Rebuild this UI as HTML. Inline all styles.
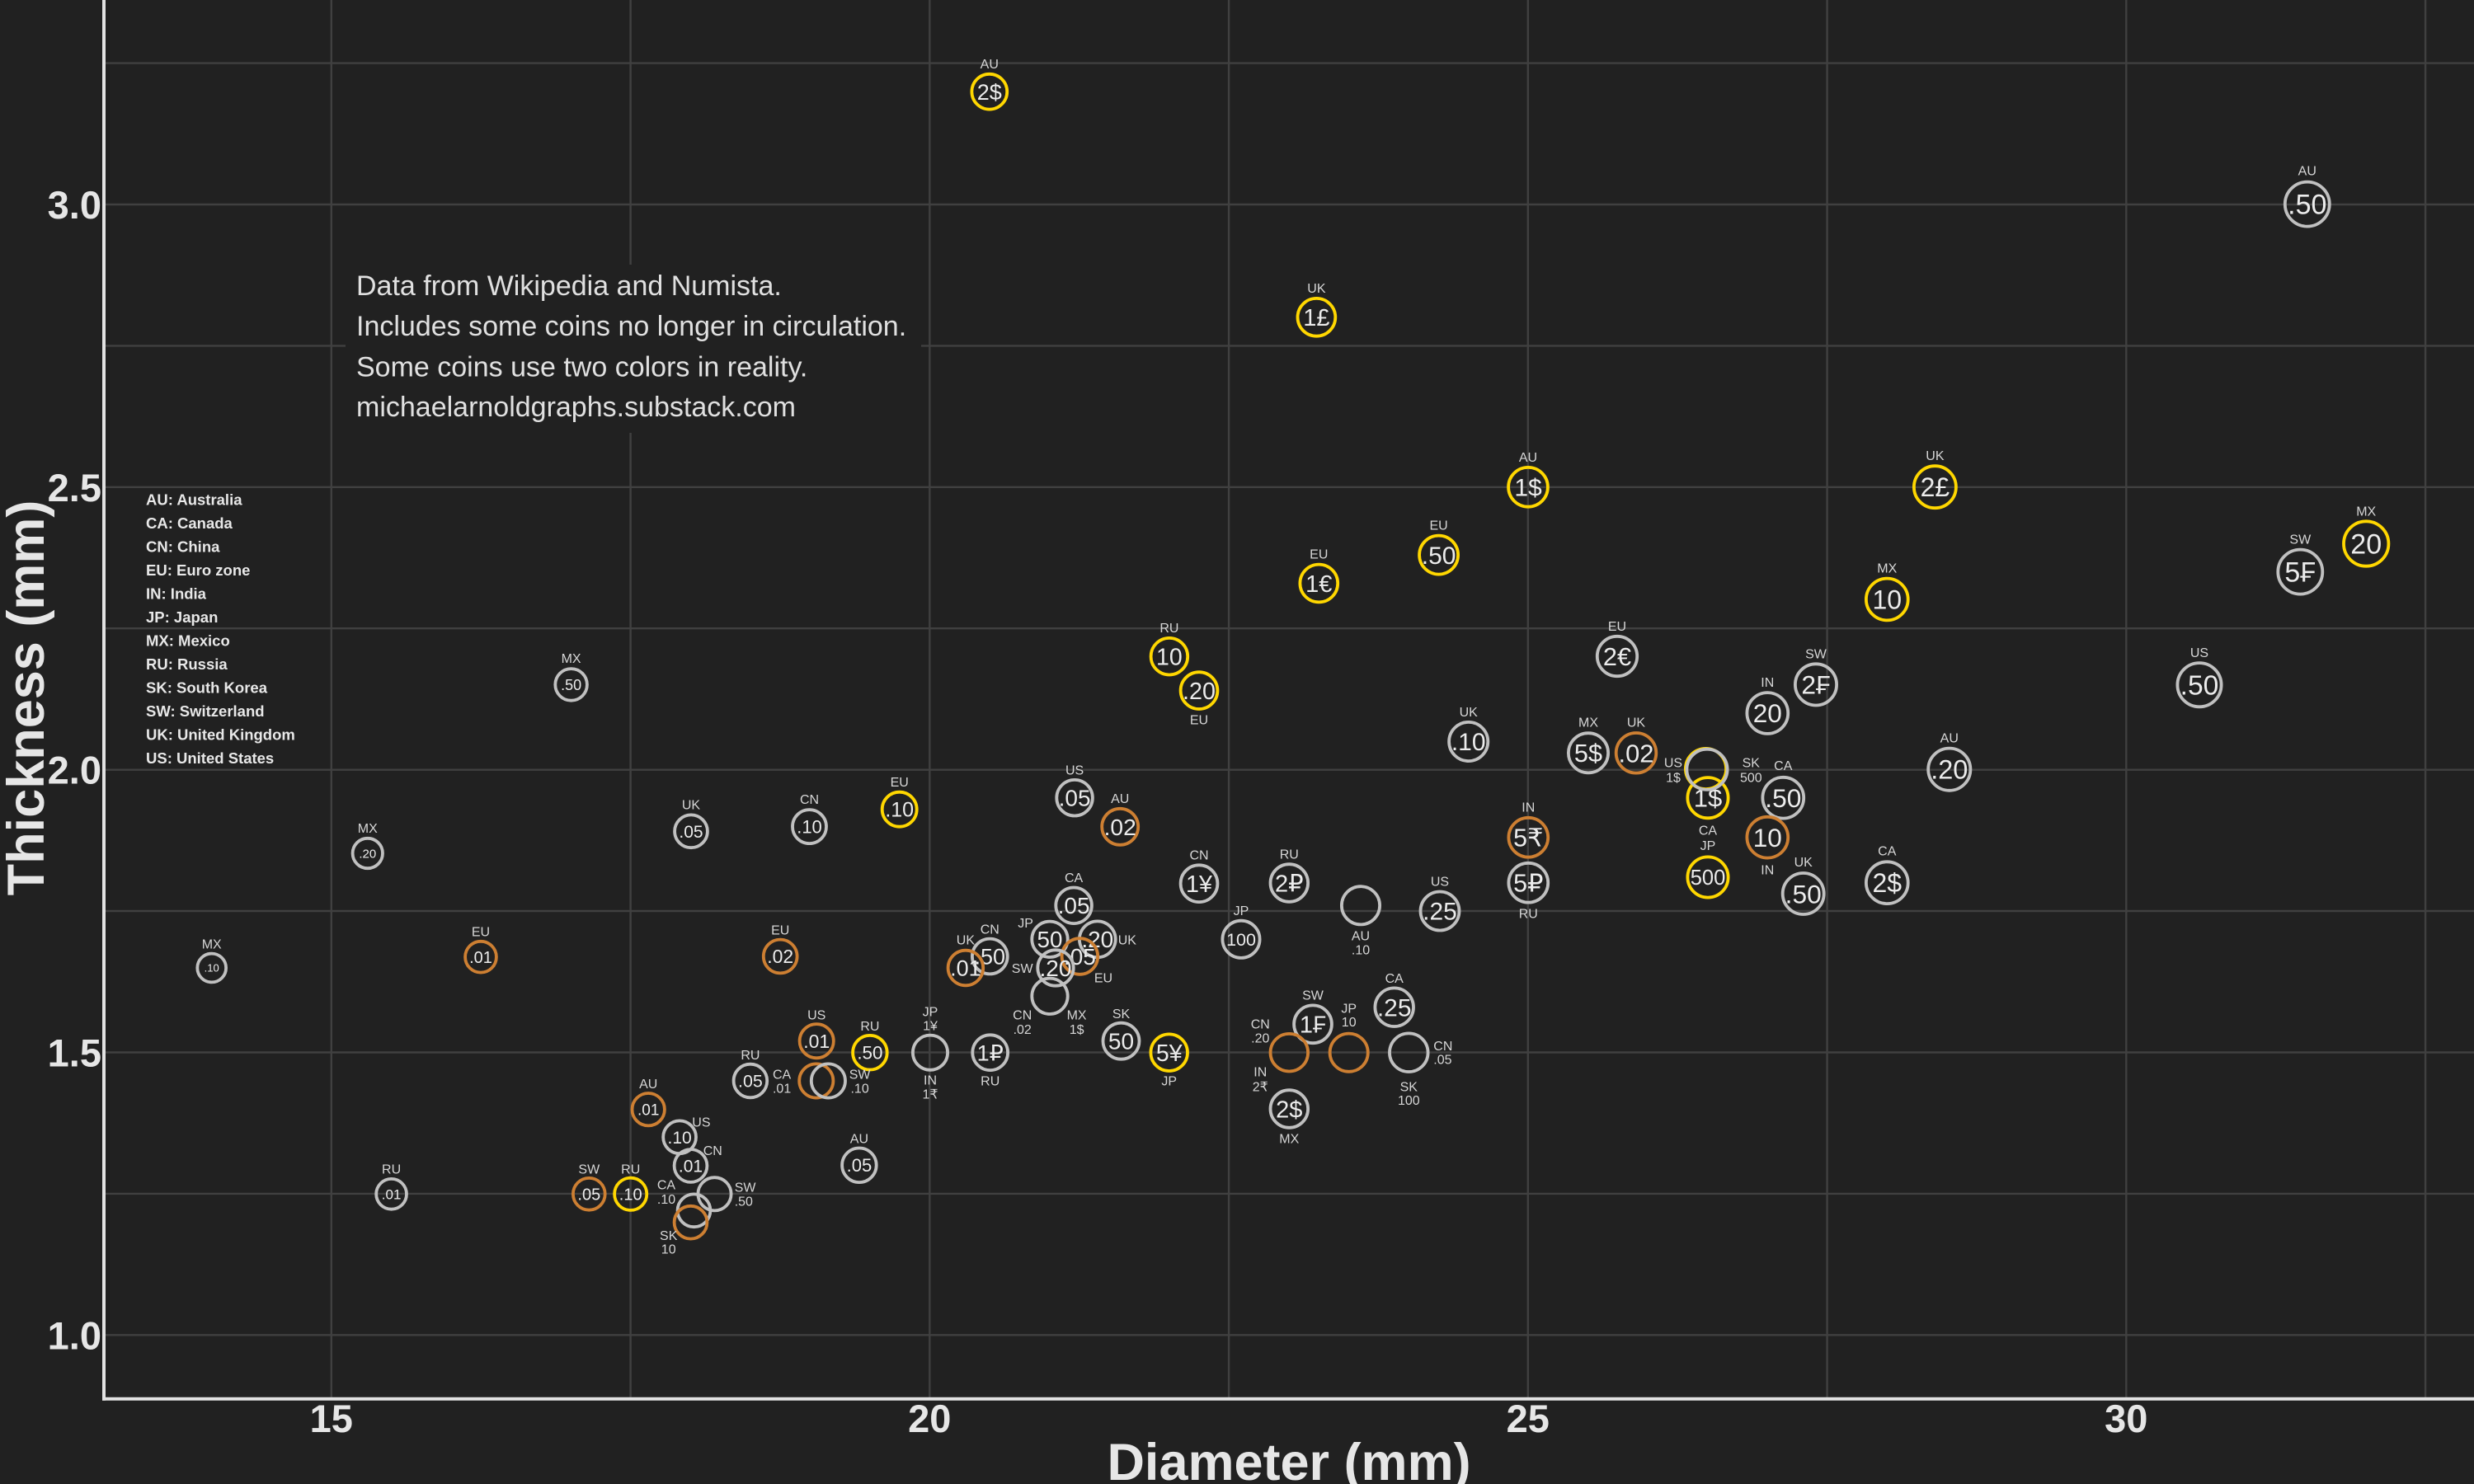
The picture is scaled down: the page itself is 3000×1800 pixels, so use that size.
<!DOCTYPE html>
<html><head><meta charset="utf-8"><style>
html,body{margin:0;padding:0;background:#212121;}
svg{display:block;}
text{font-family:"Liberation Sans","DejaVu Sans",sans-serif;}
.c{fill:none;stroke-width:3.8}
.s{stroke:#c0c0c0}.b{stroke:#cd7f32}.g{stroke:#ffd700}
.t{fill:#ececec;text-anchor:middle}
.l{fill:#d6d6d6;font-size:16px;text-anchor:middle}
.ls{fill:#d6d6d6;font-size:16px;text-anchor:start}
.grid line{stroke:#404040;stroke-width:2.4}
.tk{fill:#e6e6e6;font-weight:bold;font-size:47px}
.lg{fill:#e8e8e8;font-weight:bold;font-size:18.5px}
.note{fill:#e0e0e0;font-size:34px}
</style></head><body>
<svg width="3000" height="1800" viewBox="0 0 3000 1800" xmlns="http://www.w3.org/2000/svg">
<rect x="0" y="0" width="3000" height="1800" fill="#212121"/>
<g class="grid">
<line x1="401.8" y1="0" x2="401.8" y2="1696"/>
<line x1="764.6" y1="0" x2="764.6" y2="1696"/>
<line x1="1127.3" y1="0" x2="1127.3" y2="1696"/>
<line x1="1490.1" y1="0" x2="1490.1" y2="1696"/>
<line x1="1852.8" y1="0" x2="1852.8" y2="1696"/>
<line x1="2215.6" y1="0" x2="2215.6" y2="1696"/>
<line x1="2578.3" y1="0" x2="2578.3" y2="1696"/>
<line x1="2941.1" y1="0" x2="2941.1" y2="1696"/>
<line x1="126" y1="1619.3" x2="3000" y2="1619.3"/>
<line x1="126" y1="1447.9" x2="3000" y2="1447.9"/>
<line x1="126" y1="1276.5" x2="3000" y2="1276.5"/>
<line x1="126" y1="1105.0" x2="3000" y2="1105.0"/>
<line x1="126" y1="933.7" x2="3000" y2="933.7"/>
<line x1="126" y1="762.2" x2="3000" y2="762.2"/>
<line x1="126" y1="590.8" x2="3000" y2="590.8"/>
<line x1="126" y1="419.4" x2="3000" y2="419.4"/>
<line x1="126" y1="248.0" x2="3000" y2="248.0"/>
<line x1="126" y1="76.6" x2="3000" y2="76.6"/>
</g>
<!-- note box -->
<rect x="419" y="321" width="698" height="204" fill="#212121"/>
<text class="note" x="432" y="357.8">Data from Wikipedia and Numista.</text>
<text class="note" x="432" y="406.8">Includes some coins no longer in circulation.</text>
<text class="note" x="432" y="456.4">Some coins use two colors in reality.</text>
<text class="note" x="432" y="505.2">michaelarnoldgraphs.substack.com</text>
<!-- legend -->
<text class="lg" x="177" y="612.3">AU: Australia</text>
<text class="lg" x="177" y="640.9">CA: Canada</text>
<text class="lg" x="177" y="669.4">CN: China</text>
<text class="lg" x="177" y="697.9">EU: Euro zone</text>
<text class="lg" x="177" y="726.4">IN: India</text>
<text class="lg" x="177" y="754.9">JP: Japan</text>
<text class="lg" x="177" y="783.4">MX: Mexico</text>
<text class="lg" x="177" y="811.9">RU: Russia</text>
<text class="lg" x="177" y="840.4">SK: South Korea</text>
<text class="lg" x="177" y="868.9">SW: Switzerland</text>
<text class="lg" x="177" y="897.4">UK: United Kingdom</text>
<text class="lg" x="177" y="925.9">US: United States</text>

<!-- coins -->
<g>
<circle class="c g" cx="1199.8" cy="111.2" r="21.4"/><text class="t" x="1199.8" y="120.8" font-size="27">2$</text><text class="l" x="1199.8" y="83">AU</text>
<circle class="c s" cx="2797.8" cy="247.6" r="27.0"/><text class="t" x="2797.8" y="259.7" font-size="34">.50</text><text class="l" x="2797.8" y="212.5">AU</text>
<circle class="c g" cx="1596.4" cy="384.8" r="22.9"/><text class="t" x="1596.4" y="395.1" font-size="29">1£</text><text class="l" x="1596.4" y="355">UK</text>
<circle class="c g" cx="1853" cy="590.8" r="23.9"/><text class="t" x="1853" y="601.5" font-size="30">1$</text><text class="l" x="1853" y="560">AU</text>
<circle class="c g" cx="2346.4" cy="590.7" r="25.5"/><text class="t" x="2346.4" y="602.1" font-size="32">2£</text><text class="l" x="2346.4" y="558">UK</text>
<circle class="c g" cx="2869.2" cy="659.5" r="27.2"/><text class="t" x="2869.2" y="671.6" font-size="34">20</text><text class="l" x="2869.2" y="625.4">MX</text>
<circle class="c s" cx="2789.3" cy="693.6" r="27.0"/><text class="t" x="2789.3" y="705.7" font-size="34">5₣</text><text class="l" x="2789.3" y="659.7">SW</text>
<circle class="c g" cx="1744.6" cy="673.1" r="23.5"/><text class="t" x="1744.6" y="683.8" font-size="30">.50</text><text class="l" x="1744.6" y="642.7">EU</text>
<circle class="c g" cx="1599.3" cy="707.5" r="22.9"/><text class="t" x="1599.3" y="717.8" font-size="29">1€</text><text class="l" x="1599.3" y="677.7">EU</text>
<circle class="c g" cx="2288.3" cy="727" r="25.4"/><text class="t" x="2288.3" y="738.4" font-size="32">10</text><text class="l" x="2288.3" y="694.7">MX</text>
<circle class="c g" cx="1417.9" cy="796.2" r="22.3"/><text class="t" x="1417.9" y="806.3" font-size="28.5">10</text><text class="l" x="1417.9" y="767">RU</text>
<circle class="c g" cx="1454" cy="837.6" r="22.4"/><text class="t" x="1454" y="847.8" font-size="28.7">.20</text><text class="l" x="1454" y="878.5">EU</text>
<circle class="c s" cx="1961" cy="796" r="24.2"/><text class="t" x="1961" y="806.9" font-size="30.8">2€</text><text class="l" x="1961" y="764.9">EU</text>
<circle class="c s" cx="2202" cy="830.4" r="25.1"/><text class="t" x="2202" y="841.7" font-size="31.8">2₣</text><text class="l" x="2202" y="798.4">SW</text>
<circle class="c s" cx="2143.3" cy="865" r="24.9"/><text class="t" x="2143.3" y="876.2" font-size="31.6">20</text><text class="l" x="2143.3" y="833.2">IN</text>
<circle class="c s" cx="2667" cy="830.7" r="26.6"/><text class="t" x="2667" y="842.6" font-size="33.6">.50</text><text class="l" x="2667" y="797.2">US</text>
<circle class="c s" cx="1780.7" cy="899.5" r="23.6"/><text class="t" x="1780.7" y="910.2" font-size="30">.10</text><text class="l" x="1780.7" y="869">UK</text>
<circle class="c s" cx="1926" cy="913.3" r="24.1"/><text class="t" x="1926" y="924.2" font-size="30.7">5$</text><text class="l" x="1926" y="881.7">MX</text>
<circle class="c b" cx="1984" cy="913.3" r="24.3"/><text class="t" x="1984" y="924.3" font-size="30.9">.02</text><text class="l" x="1984" y="881.7">UK</text>
<circle class="c s" cx="2363.8" cy="933.2" r="25.6"/><text class="t" x="2363.8" y="944.7" font-size="32.5">.20</text><text class="l" x="2363.8" y="900.7">AU</text>
<circle class="c g" cx="2071" cy="967.7" r="24.6"/><text class="t" x="2071" y="978.7" font-size="31">1$</text><text class="l" x="2071" y="1012.3">CA</text>
<circle class="c g" cx="2068.5" cy="932.5" r="24.6"/>
<circle class="c s" cx="2070" cy="933.3" r="24.6"/>
<text class="l" x="2029" y="930.7">US</text><text class="l" x="2029" y="948.3">1$</text>
<text class="l" x="2123.3" y="930.7">SK</text><text class="l" x="2123.3" y="948.3">500</text>
<circle class="c g" cx="2071" cy="1064" r="24.6"/><text class="t" x="2071" y="1073" font-size="25.5">500</text><text class="l" x="2071" y="1031">JP</text>
<circle class="c s" cx="2162.3" cy="967.7" r="24.9"/><text class="t" x="2162.3" y="979" font-size="31.7">.50</text><text class="l" x="2162.3" y="934">CA</text>
<circle class="c b" cx="2143.3" cy="1015.7" r="24.9"/><text class="t" x="2143.3" y="1026.9" font-size="31.6">10</text><text class="l" x="2143.3" y="1060.7">IN</text>
<circle class="c s" cx="2186.7" cy="1084" r="25.0"/><text class="t" x="2186.7" y="1095.3" font-size="31.7">.50</text><text class="l" x="2186.7" y="1051">UK</text>
<circle class="c s" cx="2288.3" cy="1070.7" r="25.4"/><text class="t" x="2288.3" y="1082.1" font-size="32">2$</text><text class="l" x="2288.3" y="1037.3">CA</text>
<circle class="c b" cx="1853.3" cy="1015.7" r="23.9"/><text class="t" x="1853.3" y="1026.5" font-size="30.4">5₹</text><text class="l" x="1853.3" y="984.3">IN</text>
<circle class="c s" cx="1853.3" cy="1070.7" r="23.9"/><text class="t" x="1853.3" y="1081.5" font-size="30.4">5₽</text><text class="l" x="1853.3" y="1113.3">RU</text>
<circle class="c s" cx="1746" cy="1105" r="23.5"/><text class="t" x="1746" y="1115.7" font-size="30">.25</text><text class="l" x="1746" y="1074.7">US</text>
<circle class="c s" cx="1650" cy="1098.3" r="23.1"/><text class="l" x="1650" y="1140.7">AU</text><text class="l" x="1650" y="1157.3">.10</text>
<circle class="c s" cx="1563.3" cy="1071" r="22.8"/><text class="t" x="1563.3" y="1081.3" font-size="29">2₽</text><text class="l" x="1563.3" y="1041.3">RU</text>
<circle class="c s" cx="1505" cy="1139.3" r="22.6"/><text class="t" x="1505" y="1147" font-size="21.5">100</text><text class="l" x="1505" y="1109.8">JP</text>
<circle class="c s" cx="1454" cy="1071.7" r="22.4"/><text class="t" x="1454" y="1081.9" font-size="28.7">1¥</text><text class="l" x="1454" y="1042.4">CN</text>
<circle class="c s" cx="1303.1" cy="967.7" r="21.8"/><text class="t" x="1303.1" y="977.6" font-size="28">.05</text><text class="l" x="1303.1" y="939.4">US</text>
<circle class="c b" cx="1358.2" cy="1002.8" r="22.0"/><text class="t" x="1358.2" y="1012.8" font-size="28.2">.02</text><text class="l" x="1358.2" y="973.9">AU</text>
<circle class="c g" cx="1090.7" cy="981.7" r="21.0"/><text class="t" x="1090.7" y="990.6" font-size="25">.10</text><text class="l" x="1090.7" y="953.8">EU</text>
<circle class="c s" cx="981.5" cy="1002.6" r="20.5"/><text class="t" x="981.5" y="1010.4" font-size="22">.10</text><text class="l" x="981.5" y="975.2">CN</text>
<circle class="c s" cx="838" cy="1008.3" r="19.9"/><text class="t" x="838" y="1015.8" font-size="21">.05</text><text class="l" x="838" y="981.5">UK</text>
<circle class="c s" cx="692.6" cy="830.4" r="19.3"/><text class="t" x="692.6" y="836.8" font-size="18">.50</text><text class="l" x="692.6" y="804">MX</text>
<circle class="c s" cx="445.8" cy="1035" r="18.2"/><text class="t" x="445.8" y="1040.3" font-size="15">.20</text><text class="l" x="445.8" y="1009.9">MX</text>
<circle class="c s" cx="256.7" cy="1174" r="17.4"/><text class="t" x="256.7" y="1178.6" font-size="13">.10</text><text class="l" x="256.7" y="1150.7">MX</text>
<circle class="c b" cx="583" cy="1160.7" r="18.9"/><text class="t" x="583" y="1167.8" font-size="20">.01</text><text class="l" x="583" y="1135.7">EU</text>
<circle class="c b" cx="946.2" cy="1160" r="20.4"/><text class="t" x="946.2" y="1168.2" font-size="23">.02</text><text class="l" x="946.2" y="1133.3">EU</text>
<circle class="c s" cx="474.6" cy="1448.3" r="18.4"/><text class="t" x="474.6" y="1454.3" font-size="17">.01</text><text class="l" x="474.6" y="1423.3">RU</text>
<circle class="c b" cx="714.3" cy="1448.3" r="19.4"/><text class="t" x="714.3" y="1455.4" font-size="20">.05</text><text class="l" x="714.3" y="1423.3">SW</text>
<circle class="c g" cx="764.7" cy="1448.3" r="19.6"/><text class="t" x="764.7" y="1455.4" font-size="20">.10</text><text class="l" x="764.7" y="1423.3">RU</text>
<circle class="c b" cx="786.2" cy="1345.7" r="19.7"/><text class="t" x="786.2" y="1352.4" font-size="19">.01</text><text class="l" x="786.2" y="1320">AU</text>
<circle class="c s" cx="824.1" cy="1379.3" r="19.9"/><text class="t" x="824.1" y="1386.8" font-size="21">.10</text><text class="ls" x="839.3" y="1366.7">US</text>
<circle class="c s" cx="837.5" cy="1414" r="19.9"/><text class="t" x="837.5" y="1421.5" font-size="21">.01</text><text class="ls" x="852.7" y="1401">CN</text>
<circle class="c s" cx="841.5" cy="1468.3" r="19.9"/><text class="l" x="808" y="1442.7">CA</text><text class="l" x="808" y="1460">.10</text>
<circle class="c b" cx="837.5" cy="1482.7" r="19.9"/><text class="l" x="810.7" y="1504">SK</text><text class="l" x="810.7" y="1520.7">10</text>
<circle class="c s" cx="866.5" cy="1448.3" r="20.1"/><text class="ls" x="890.7" y="1445.7">SW</text><text class="ls" x="890.7" y="1462.7">.50</text>
<circle class="c b" cx="990.2" cy="1262.7" r="20.6"/><text class="t" x="990.2" y="1270.9" font-size="23">.01</text><text class="l" x="990.2" y="1236.7">US</text>
<circle class="c g" cx="1054.9" cy="1276.7" r="20.8"/><text class="t" x="1054.9" y="1284.7" font-size="22.4">.50</text><text class="l" x="1054.9" y="1250">RU</text>
<circle class="c s" cx="1128" cy="1276.7" r="21.1"/><text class="l" x="1128" y="1232.7">JP</text><text class="l" x="1128" y="1249.3">1¥</text><text class="l" x="1128" y="1315.7">IN</text><text class="l" x="1128" y="1332.3">1₹</text>
<circle class="c s" cx="1200.7" cy="1276.7" r="21.4"/><text class="t" x="1200.7" y="1286.3" font-size="27">1₽</text><text class="l" x="1200.7" y="1316.7">RU</text>
<circle class="c s" cx="1359.5" cy="1262.7" r="22.0"/><text class="t" x="1359.5" y="1272.6" font-size="28">50</text><text class="l" x="1359.5" y="1235">SK</text>
<circle class="c g" cx="1417.7" cy="1276.7" r="22.3"/><text class="t" x="1417.7" y="1286.8" font-size="28.5">5¥</text><text class="l" x="1417.7" y="1316.7">JP</text>
<circle class="c s" cx="909.9" cy="1311" r="20.3"/><text class="t" x="909.9" y="1318.6" font-size="21.4">.05</text><text class="l" x="909.9" y="1285">RU</text>
<circle class="c b" cx="989.8" cy="1311" r="20.6"/>
<circle class="c s" cx="1004.4" cy="1311" r="20.6"/>
<text class="l" x="948.1" y="1308.3">CA</text><text class="l" x="948.1" y="1325.7">.01</text>
<text class="l" x="1042.6" y="1308.3">SW</text><text class="l" x="1042.6" y="1325.7">.10</text>
<circle class="c s" cx="1041.9" cy="1413.3" r="20.8"/><text class="t" x="1041.9" y="1421.1" font-size="22">.05</text><text class="l" x="1041.9" y="1386.7">AU</text>
<circle class="c s" cx="1302.1" cy="1098.3" r="21.8"/><text class="t" x="1302.1" y="1108.2" font-size="28">.05</text><text class="l" x="1302.1" y="1070">CA</text>
<circle class="c s" cx="1273" cy="1208.3" r="21.7"/>
<circle class="c s" cx="1273" cy="1139.3" r="21.7"/><text class="t" x="1273" y="1149.2" font-size="27.8">50</text><text class="l" x="1243.6" y="1125">JP</text>
<circle class="c s" cx="1330.8" cy="1139.3" r="21.9"/><text class="t" x="1330.8" y="1149.2" font-size="28">.20</text><text class="ls" x="1355.7" y="1145.7">UK</text>
<circle class="c b" cx="1309.4" cy="1160" r="21.8"/><text class="t" x="1309.4" y="1169.9" font-size="28">.05</text><text class="l" x="1338" y="1191.7">EU</text>
<circle class="c s" cx="1280" cy="1174" r="21.7"/><text class="t" x="1280" y="1183.9" font-size="28">.20</text><text class="l" x="1239.7" y="1180">SW</text>
<text class="l" x="1239.7" y="1236.7">CN</text><text class="l" x="1239.7" y="1254">.02</text>
<text class="l" x="1305.6" y="1236.7">MX</text><text class="l" x="1305.6" y="1254">1$</text>
<circle class="c s" cx="1200.3" cy="1160" r="21.4"/><text class="t" x="1200.3" y="1169.6" font-size="27">.50</text><text class="l" x="1200.3" y="1132.7">CN</text>
<circle class="c b" cx="1170.9" cy="1174" r="21.3"/><text class="t" x="1170.9" y="1183.6" font-size="27">.01</text><text class="l" x="1170.9" y="1145.7">UK</text>
<circle class="c s" cx="1592" cy="1242.3" r="22.9"/><text class="t" x="1592" y="1252.6" font-size="29">1₣</text><text class="l" x="1592" y="1212.7">SW</text>
<circle class="c b" cx="1563.3" cy="1276.7" r="22.8"/>
<text class="l" x="1528.3" y="1247.7">CN</text><text class="l" x="1528.3" y="1264.3">.20</text>
<text class="l" x="1528.3" y="1305.7">IN</text><text class="l" x="1528.3" y="1323.3">2₹</text>
<circle class="c b" cx="1635.7" cy="1276.7" r="23.1"/><text class="l" x="1635.7" y="1228.3">JP</text><text class="l" x="1635.7" y="1245">10</text>
<circle class="c s" cx="1690.7" cy="1221.7" r="23.3"/><text class="t" x="1690.7" y="1232.4" font-size="30">.25</text><text class="l" x="1690.7" y="1192">CA</text>
<circle class="c s" cx="1708.3" cy="1276.7" r="23.3"/>
<text class="ls" x="1738.3" y="1274">CN</text><text class="ls" x="1738.3" y="1290.7">.05</text>
<text class="l" x="1708.3" y="1323.3">SK</text><text class="l" x="1708.3" y="1340">100</text>
<circle class="c s" cx="1563.3" cy="1345" r="22.8"/><text class="t" x="1563.3" y="1355.3" font-size="29">2$</text><text class="l" x="1563.3" y="1386.7">MX</text>
</g>

<!-- axes -->
<line x1="126" y1="0" x2="126" y2="1698.7" stroke="#e2e2e2" stroke-width="4"/>
<line x1="124" y1="1696.7" x2="3000" y2="1696.7" stroke="#e2e2e2" stroke-width="4"/>
<!-- y ticks -->
<text class="tk" x="123" y="1636.3" text-anchor="end">1.0</text>
<text class="tk" x="123" y="1293.5" text-anchor="end">1.5</text>
<text class="tk" x="123" y="950.7" text-anchor="end">2.0</text>
<text class="tk" x="123" y="607.8" text-anchor="end">2.5</text>
<text class="tk" x="123" y="265" text-anchor="end">3.0</text>
<!-- x ticks -->
<text class="tk" x="401.8" y="1737" text-anchor="middle">15</text>
<text class="tk" x="1127.3" y="1737" text-anchor="middle">20</text>
<text class="tk" x="1852.8" y="1737" text-anchor="middle">25</text>
<text class="tk" x="2578.3" y="1737" text-anchor="middle">30</text>
<!-- axis titles -->
<text x="1563" y="1795" text-anchor="middle" font-size="63" font-weight="bold" fill="#e6e6e6">Diameter (mm)</text>
<text transform="translate(53,846.5) rotate(-90)" x="0" y="0" text-anchor="middle" font-size="63" font-weight="bold" fill="#e6e6e6">Thickness (mm)</text>
</svg>
</body></html>
